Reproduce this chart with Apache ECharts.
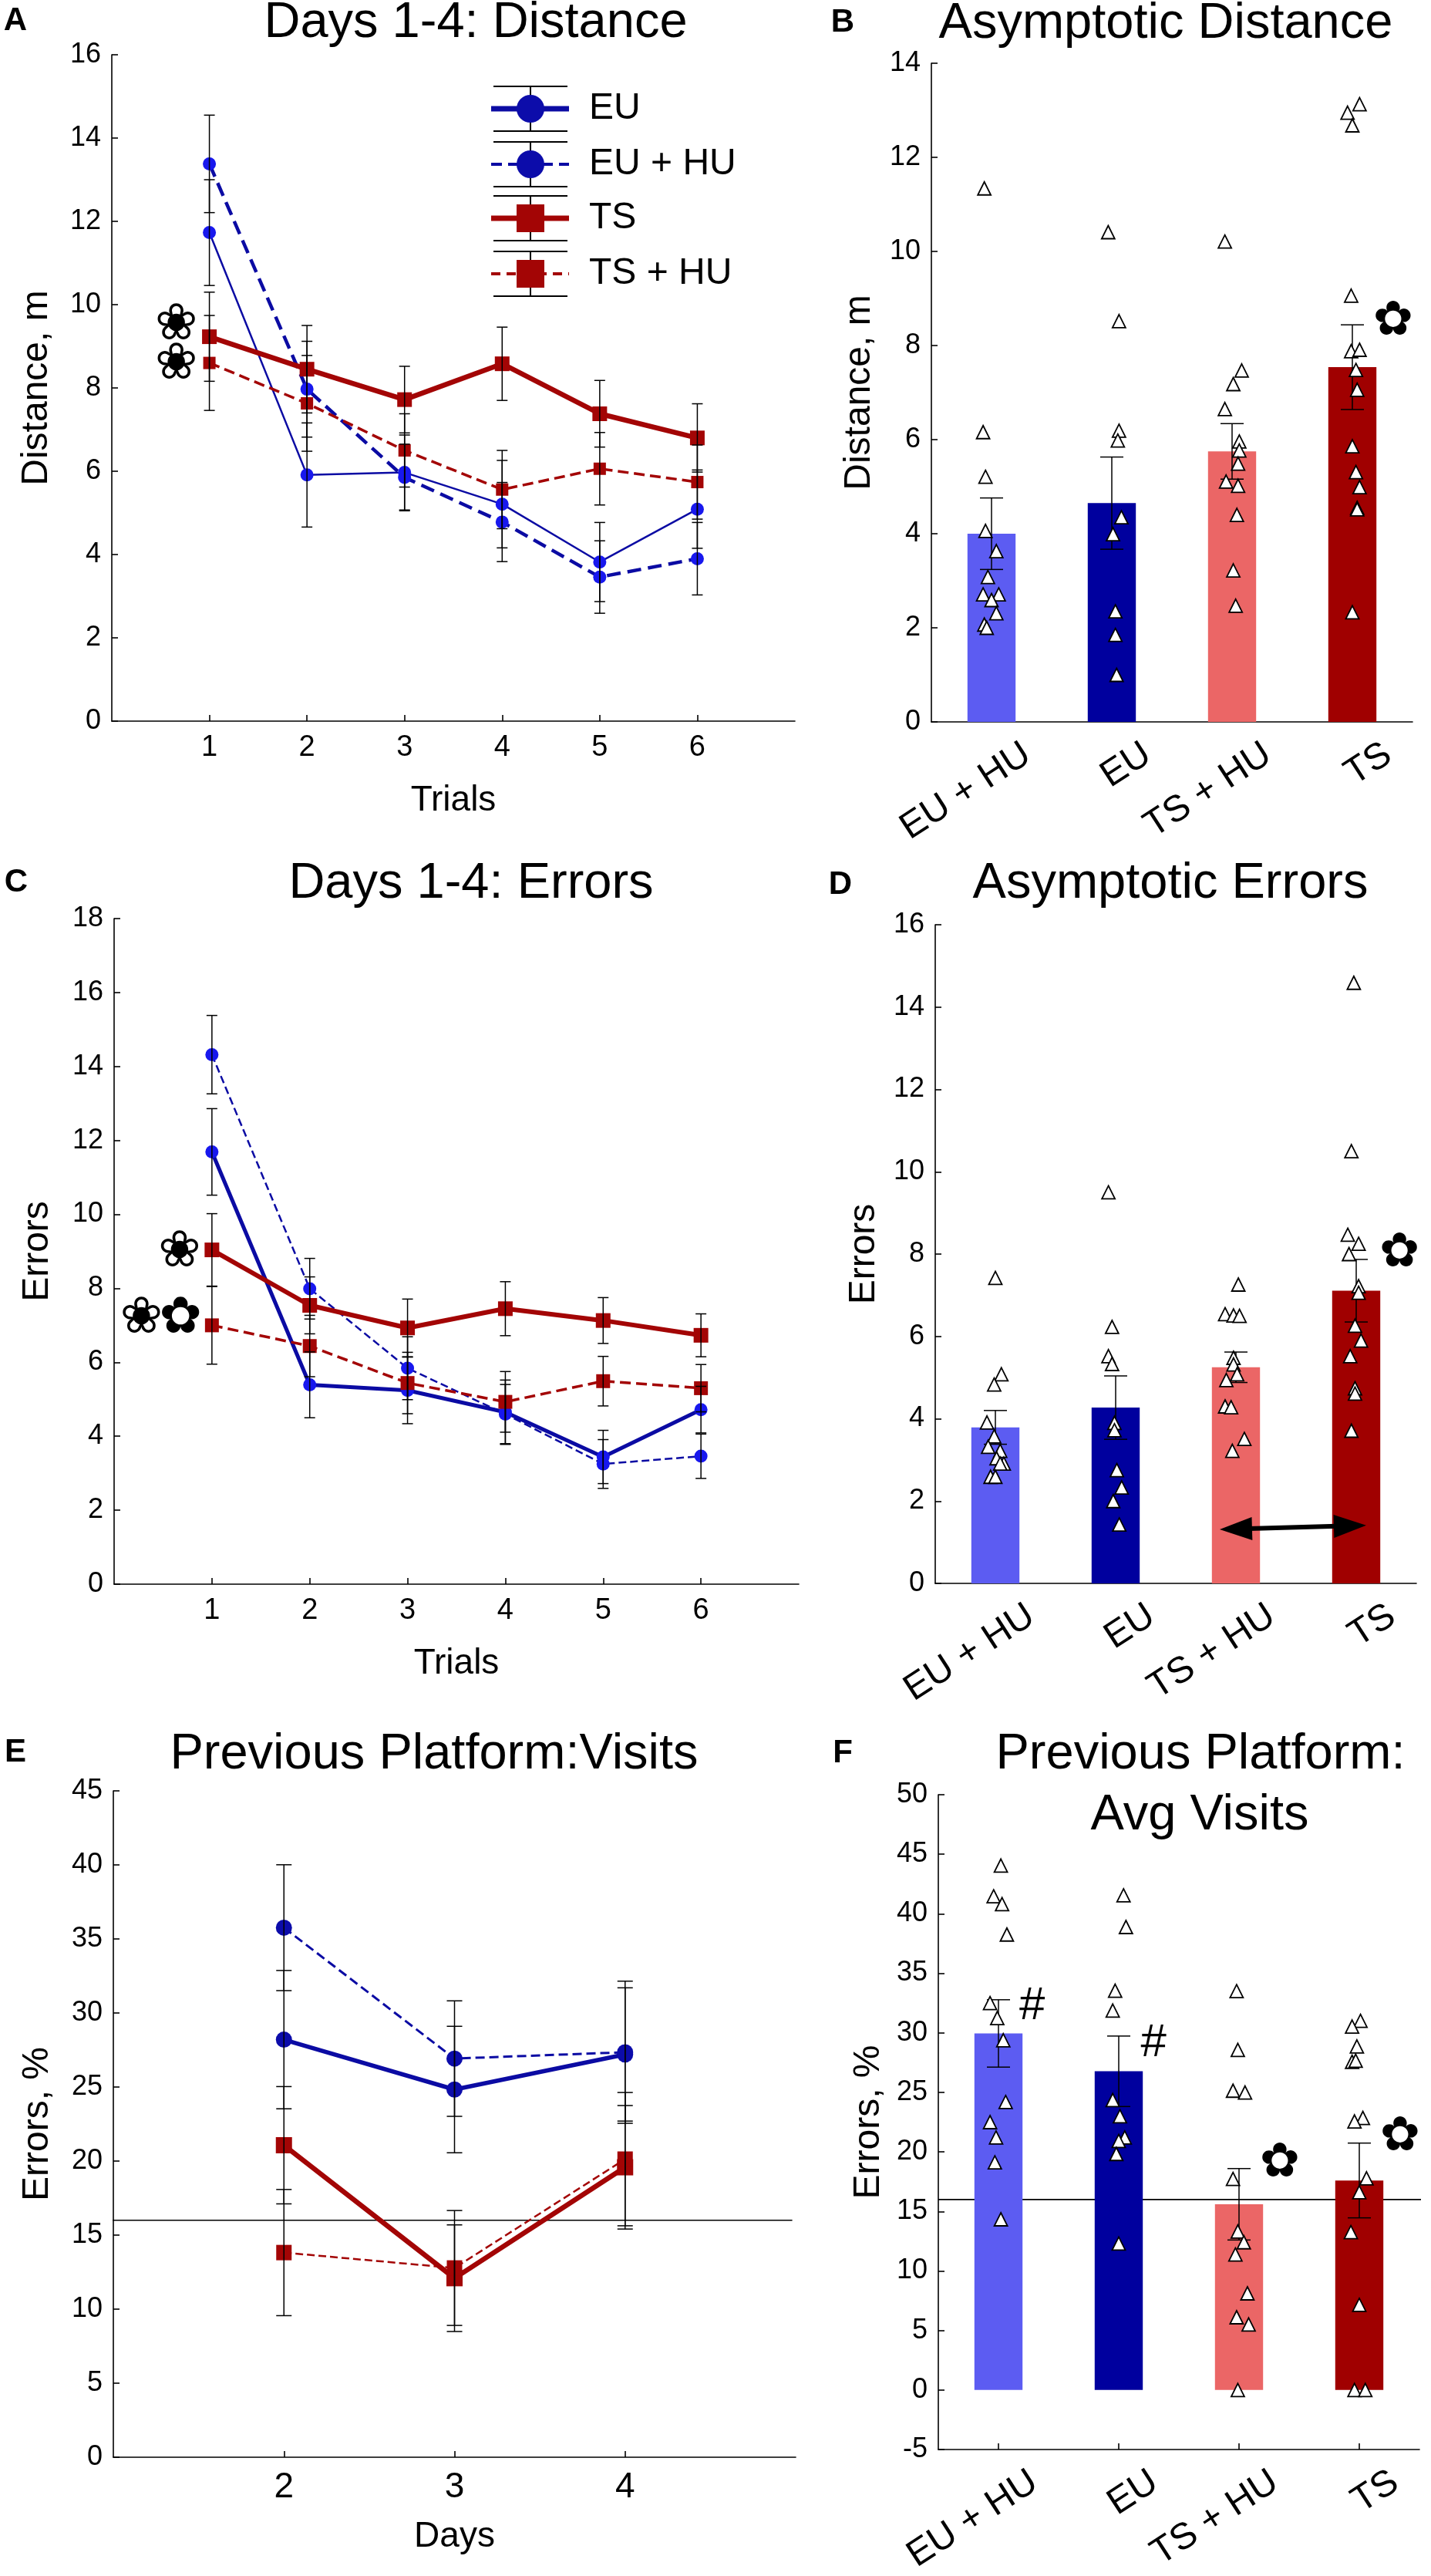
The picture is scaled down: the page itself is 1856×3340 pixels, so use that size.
<!DOCTYPE html>
<html><head><meta charset="utf-8">
<script src="https://cdn.jsdelivr.net/npm/echarts@6/dist/echarts.min.js"></script>
<style>html,body{margin:0;padding:0;background:#fff}#c{width:1856px;height:3340px}</style>
</head><body><div id="c"></div>
<script>
// ---------------- DATA ----------------
const trials = [1, 2, 3, 4, 5, 6];
const days = [2, 3, 4];
const groups = ['EU + HU', 'EU', 'TS + HU', 'TS'];
const legendNames = ['EU', 'EU + HU', 'TS', 'TS + HU'];

// Panel A: Days 1-4 distance (m)
const distEU = [11.73, 5.91, 5.97, 5.21, 3.82, 5.09];
const distEUsem = [1.27, 1.25, 0.9, 1.05, 0.95, 0.94];
const distEUHU = [13.38, 7.97, 5.85, 4.78, 3.46, 3.90];
const distEUHUsem = [1.17, 1.15, 0.8, 0.95, 0.87, 0.87];
const distTS = [9.23, 8.45, 7.72, 8.58, 7.38, 6.80];
const distTSsem = [1.07, 1.05, 0.8, 0.88, 0.8, 0.82];
const distTSHU = [8.60, 7.63, 6.50, 5.56, 6.06, 5.74];
const distTSHUsem = [1.14, 1.15, 0.88, 0.94, 0.87, 0.89];

// Panel B: asymptotic distance
const asymDist = [4.0, 4.65, 5.75, 7.54];
const asymDistSem = [0.76, 0.98, 0.59, 0.9];
const bDistEUHU = [11.34, 6.16, 5.21, 4.06, 3.63, 3.08, 2.71, 2.71, 2.59, 2.31, 2.07, 2.0];
const bJitEUHU = [-0.06, -0.07, -0.05, -0.05, 0.04, -0.03, -0.07, 0.06, 0.0, 0.04, -0.06, -0.04];
const bDistEU = [10.41, 8.52, 6.19, 5.98, 4.35, 3.99, 2.35, 1.85, 1.0];
const bJitEU = [-0.03, 0.06, 0.06, 0.05, 0.08, 0.01, 0.03, 0.03, 0.04];
const bDistTSHU = [10.21, 7.47, 7.18, 6.65, 5.96, 5.77, 5.49, 5.11, 5.02, 4.40, 3.22, 2.47];
const bJitTSHU = [-0.06, 0.08, 0.01, -0.06, 0.06, 0.06, 0.05, -0.05, 0.05, 0.04, 0.01, 0.03];
const bDistTS = [13.13, 12.95, 12.68, 9.06, 7.88, 7.91, 7.48, 7.06, 5.86, 5.31, 4.99, 4.55, 4.52, 2.33];
const bJitTS = [0.06, -0.04, 0.0, -0.01, -0.01, 0.06, 0.03, 0.04, 0.0, 0.03, 0.06, 0.04, 0.04, 0.0];

// Panel C: Days 1-4 errors
const errEU = [11.69, 5.39, 5.24, 4.65, 3.44, 4.72];
const errEUsem = [1.17, 0.89, 0.9, 0.87, 0.72, 0.63];
const errEUHU = [14.32, 7.99, 5.84, 4.60, 3.25, 3.46];
const errEUHUsem = [1.06, 0.82, 0.85, 0.8, 0.66, 0.6];
const errTS = [9.04, 7.54, 6.93, 7.45, 7.13, 6.73];
const errTSsem = [0.98, 0.77, 0.78, 0.73, 0.62, 0.58];
const errTSHU = [7.0, 6.44, 5.44, 4.93, 5.49, 5.30];
const errTSHUsem = [1.05, 0.83, 0.83, 0.82, 0.67, 0.64];

// Panel D: asymptotic errors
const asymErr = [3.79, 4.27, 5.25, 7.11];
const asymErrSem = [0.41, 0.77, 0.37, 0.76];
const dErrEUHU = [7.42, 5.08, 4.83, 3.91, 3.57, 3.32, 3.22, 3.04, 2.91, 2.91, 2.59, 2.59];
const dJitEUHU = [0.0, 0.05, -0.01, -0.07, -0.01, -0.06, 0.04, 0.01, 0.07, 0.04, -0.04, 0.0];
const dErrEU = [9.5, 6.23, 5.52, 5.33, 3.90, 3.72, 2.75, 2.33, 2.0, 1.43];
const dJitEU = [-0.06, -0.03, -0.06, -0.03, -0.01, -0.01, 0.01, 0.05, -0.02, 0.03];
const dErrTSHU = [7.26, 6.54, 6.51, 6.50, 5.48, 5.32, 5.08, 4.94, 4.30, 4.28, 3.51, 3.22];
const dJitTSHU = [0.02, -0.09, -0.02, 0.03, -0.02, -0.02, 0.01, -0.08, -0.09, -0.04, 0.07, -0.03];
const dErrTS = [14.59, 10.5, 8.47, 8.25, 8.0, 7.22, 7.06, 6.26, 5.9, 5.52, 4.74, 4.61, 3.71];
const dJitTS = [-0.02, -0.04, -0.07, 0.02, -0.06, 0.02, 0.02, -0.01, 0.04, -0.05, -0.01, -0.01, -0.04];
const arrowX = [1.865, 3.083];
const arrowY = [1.31, 1.41];

// Panel E: previous platform visits (%)
const visEU = [28.2, 24.83, 27.2];
const visEUsem = [4.67, 4.27, 4.5];
const visEUHU = [35.76, 26.92, 27.35];
const visEUHUsem = [4.25, 3.9, 4.8];
const visTS = [21.07, 12.09, 19.58];
const visTSsem = [3.96, 3.6, 4.17];
const visTSHU = [13.82, 12.78, 20.13];
const visTSHUsem = [4.26, 3.88, 4.5];
const chanceLevel = 16;

// Panel F: average visits
const avgVis = [29.95, 26.77, 15.6, 17.6];
const avgVisSem = [2.83, 2.96, 3.0, 3.14];
const fVisEUHU = [44.05, 41.47, 40.81, 38.26, 32.5, 31.24, 29.38, 24.19, 22.5, 21.21, 19.12, 14.34];
const fJitEUHU = [0.02, -0.04, 0.03, 0.07, -0.07, -0.01, 0.04, 0.06, -0.07, -0.02, -0.03, 0.02];
const fVisEU = [41.55, 38.89, 33.54, 31.87, 24.36, 22.99, 21.21, 20.92, 19.83, 12.3];
const fJitEU = [0.04, 0.06, -0.03, -0.05, -0.05, 0.01, 0.05, 0.0, -0.02, 0.0];
const fVisTSHU = [33.5, 28.57, 25.14, 24.99, 17.73, 13.31, 12.41, 11.38, 8.12, 6.11, 5.51, 0];
const fJitTSHU = [-0.02, -0.01, -0.05, 0.05, -0.05, -0.01, 0.04, -0.03, 0.07, -0.02, 0.08, -0.01];
const fVisTS = [31.01, 30.53, 28.86, 27.57, 27.66, 22.85, 22.56, 17.78, 16.62, 13.26, 7.15, 0, 0];
const fJitTS = [0.01, -0.06, -0.02, -0.06, -0.03, 0.03, -0.04, 0.06, 0.0, -0.07, 0.0, -0.04, 0.05];

// Significance annotations
const annAx = [0.66, 0.66], annAy = [9.48, 8.54], annAt = ['\u2740', '\u2740'];
const annBx = [3.34], annBy = [8.5], annBt = ['\u273F'];
const annCx = [0.67, 0.28, 0.68], annCy = [8.96, 7.15, 7.15], annCt = ['\u2740', '\u2740', '\u273F'];
const annDx = [3.36], annDy = [8.0], annDt = ['\u273F'];
const annFx = [0.28, 1.29, 2.34, 3.34], annFy = [32.2, 29.1, 19.0, 21.2], annFt = ['#', '#', '\u273F', '\u273F'];

// ---------------- STYLE ----------------
const FONT = "'Liberation Sans', Arial, Helvetica, sans-serif";
const SYMF = "'DejaVu Sans', sans-serif";
const BLUE_LINE = '#0b0ba3';
const BLUE_MK = '#1818ee';
const BLUE_MK_DARK = '#0c0caa';
const RED = '#a30505';
const BAR_COLORS = ['#5c5cf2', '#00009e', '#eb6666', '#a00000'];
const AXC = {color: '#000', width: 1.6};

function yAx(grid, min, max, interval, name, gap) {
  return {type: 'value', gridIndex: grid, min, max, interval, name, nameLocation: 'middle', nameGap: gap,
    nameTextStyle: {fontSize: 48, color: '#000', fontFamily: FONT},
    axisLine: {show: true, onZero: false, lineStyle: AXC},
    axisTick: {show: true, inside: true, length: 8, lineStyle: AXC},
    axisLabel: {fontSize: 36, color: '#000', fontFamily: FONT, margin: 14},
    splitLine: {show: false}};
}
function xValAx(grid, min, max, ticks, name, fs) {
  return {type: 'value', gridIndex: grid, min, max, interval: 1, name, nameLocation: 'middle', nameGap: 80,
    nameTextStyle: {fontSize: 46, color: '#000', fontFamily: FONT},
    axisLine: {show: true, onZero: false, lineStyle: AXC},
    axisTick: {show: true, inside: true, length: 8, customValues: ticks, lineStyle: AXC},
    axisLabel: {customValues: ticks, fontSize: fs, color: '#000', fontFamily: FONT, margin: 16},
    splitLine: {show: false}};
}
function xCatAx(grid) {
  return {type: 'category', gridIndex: grid, data: groups,
    axisLine: {show: true, onZero: false, lineStyle: AXC},
    axisTick: {show: true, inside: true, alignWithLabel: true, length: 8, lineStyle: AXC},
    axisLabel: {interval: 0, rotate: 33, fontSize: 48, color: '#000', fontFamily: FONT, margin: 40,
      align: 'right', verticalAlign: 'top', padding: [0, -40, 0, 0]},
    splitLine: {show: false}};
}
function xHidden(grid) {
  return {type: 'value', gridIndex: grid, min: -0.5, max: 3.5, show: false, splitLine: {show: false}};
}

function lineS(xi, yi, xs, ys, lineColor, mkColor, width, dashed, symbol, size) {
  return {type: 'line', xAxisIndex: xi, yAxisIndex: yi, data: xs.map((x, i) => [x, ys[i]]),
    symbol, symbolSize: size, showSymbol: true, z: 3,
    lineStyle: {color: lineColor, width, type: dashed ? 'dashed' : 'solid'},
    itemStyle: {color: mkColor, borderWidth: 0}};
}
function errS(xi, yi, xs, ys, sem, cap, z) {
  return {type: 'custom', xAxisIndex: xi, yAxisIndex: yi, z: z || 4, silent: true,
    data: xs.map((x, i) => [x, ys[i] - sem[i], ys[i] + sem[i]]),
    renderItem: (params, api) => {
      const lo = api.coord([api.value(0), api.value(1)]);
      const hi = api.coord([api.value(0), api.value(2)]);
      const st = {stroke: '#000', lineWidth: 1.5};
      return {type: 'group', children: [
        {type: 'line', shape: {x1: lo[0], y1: lo[1], x2: hi[0], y2: hi[1]}, style: st},
        {type: 'line', shape: {x1: lo[0] - cap, y1: lo[1], x2: lo[0] + cap, y2: lo[1]}, style: st},
        {type: 'line', shape: {x1: hi[0] - cap, y1: hi[1], x2: hi[0] + cap, y2: hi[1]}, style: st}
      ]};
    }};
}
function barS(xi, yi, vals) {
  return {type: 'bar', xAxisIndex: xi, yAxisIndex: yi, barWidth: '40%', z: 2,
    data: vals.map((v, i) => ({value: v, itemStyle: {color: BAR_COLORS[i]}}))};
}
function triS(xi, yi, g, vals, jit) {
  return {type: 'scatter', xAxisIndex: xi, yAxisIndex: yi, z: 6, symbol: 'triangle', symbolSize: 17,
    data: vals.map((v, i) => [g + jit[i], v]),
    itemStyle: {color: '#fff', borderColor: '#000', borderWidth: 1.8, opacity: 1}};
}
function textS(xi, yi, xs, ys, texts, fontSpec) {
  return {type: 'custom', xAxisIndex: xi, yAxisIndex: yi, z: 8, silent: true,
    data: xs.map((x, i) => [x, ys[i]]),
    renderItem: (params, api) => {
      const p = api.coord([api.value(0), api.value(1)]);
      const t = texts[params.dataIndex];
      return {type: 'text', x: p[0], y: p[1], style: {text: t, fill: '#000',
        font: t === '#' ? '60px ' + FONT : fontSpec,
        align: 'center', verticalAlign: 'middle', textAlign: 'center', textVerticalAlign: 'middle'}};
    }};
}
function hLineS(xi, yi, x0, x1, y) {
  return {type: 'line', xAxisIndex: xi, yAxisIndex: yi, clip: false, symbol: 'none', z: 1, silent: true,
    data: [[x0, y], [x1, y]], lineStyle: {color: '#000', width: 1.6}};
}
function arrowS(xi, yi) {
  return {type: 'custom', xAxisIndex: xi, yAxisIndex: yi, z: 7, silent: true,
    data: [[arrowX[0], arrowY[0], arrowX[1], arrowY[1]]],
    renderItem: (params, api) => {
      const a = api.coord([api.value(0), api.value(1)]);
      const b = api.coord([api.value(2), api.value(3)]);
      const dx = b[0] - a[0], dy = b[1] - a[1], L = Math.hypot(dx, dy);
      const ux = dx / L, uy = dy / L, nx = -uy, ny = ux, HL = 42, HW = 15;
      const head = (p, s) => [[p[0], p[1]],
        [p[0] + s * HL * ux + HW * nx, p[1] + s * HL * uy + HW * ny],
        [p[0] + s * HL * ux - HW * nx, p[1] + s * HL * uy - HW * ny]];
      return {type: 'group', children: [
        {type: 'line', shape: {x1: a[0] + HL * ux * 0.9, y1: a[1] + HL * uy * 0.9, x2: b[0] - HL * ux * 0.9, y2: b[1] - HL * uy * 0.9}, style: {stroke: '#000', lineWidth: 6}},
        {type: 'polygon', shape: {points: head(a, 1)}, style: {fill: '#000'}},
        {type: 'polygon', shape: {points: head(b, -1)}, style: {fill: '#000'}}
      ]};
    }};
}

// ---------------- LAYOUT ----------------
const grids = [
  {left: 145, top: 71, width: 886, height: 864},    // A
  {left: 1208, top: 82, width: 624, height: 854},   // B
  {left: 148, top: 1191, width: 888, height: 863},  // C
  {left: 1213, top: 1199, width: 624, height: 854}, // D
  {left: 147, top: 2322, width: 885, height: 864},  // E
  {left: 1217, top: 2327, width: 624, height: 857}  // F
];

const xAxis = [
  xValAx(0, 0, 7, trials, 'Trials', 38),   // 0 A
  xCatAx(1),                                // 1 B
  xHidden(1),                               // 2 B hidden
  xValAx(2, 0, 7, trials, 'Trials', 38),   // 3 C
  xCatAx(3),                                // 4 D
  xHidden(3),                               // 5 D hidden
  xValAx(4, 1, 5, days, 'Days', 46),       // 6 E
  xCatAx(5),                                // 7 F
  xHidden(5)                                // 8 F hidden
];
const yAxis = [
  yAx(0, 0, 16, 2, 'Distance, m', 73),
  yAx(1, 0, 14, 2, 'Distance, m', 69),
  yAx(2, 0, 18, 2, 'Errors', 75),
  yAx(3, 0, 16, 2, 'Errors', 68),
  yAx(4, 0, 45, 5, 'Errors, %', 74),
  yAx(5, -5, 50, 5, 'Errors, %', 66)
];

const FLOWER_OPEN = '66px ' + SYMF;
const FLOWER = '62px ' + SYMF;

const series = [
  // A
  lineS(0, 0, trials, distEU, BLUE_LINE, BLUE_MK, 2.5, false, 'circle', 17),
  lineS(0, 0, trials, distEUHU, BLUE_LINE, BLUE_MK, 4.5, true, 'circle', 17),
  lineS(0, 0, trials, distTS, RED, RED, 6.5, false, 'rect', 19),
  lineS(0, 0, trials, distTSHU, RED, RED, 3.5, true, 'rect', 16),
  errS(0, 0, trials, distEU, distEUsem, 7), errS(0, 0, trials, distEUHU, distEUHUsem, 7),
  errS(0, 0, trials, distTS, distTSsem, 7), errS(0, 0, trials, distTSHU, distTSHUsem, 7),
  textS(0, 0, annAx, annAy, annAt, FLOWER_OPEN),
  // B
  barS(1, 1, asymDist),
  errS(2, 1, [0, 1, 2, 3], asymDist, asymDistSem, 15),
  triS(2, 1, 0, bDistEUHU, bJitEUHU), triS(2, 1, 1, bDistEU, bJitEU),
  triS(2, 1, 2, bDistTSHU, bJitTSHU), triS(2, 1, 3, bDistTS, bJitTS),
  textS(2, 1, annBx, annBy, annBt, FLOWER),
  // C
  lineS(3, 2, trials, errEU, BLUE_LINE, BLUE_MK, 5, false, 'circle', 17),
  lineS(3, 2, trials, errEUHU, BLUE_LINE, BLUE_MK, 2.5, true, 'circle', 17),
  lineS(3, 2, trials, errTS, RED, RED, 6, false, 'rect', 19),
  lineS(3, 2, trials, errTSHU, RED, RED, 3.5, true, 'rect', 18),
  errS(3, 2, trials, errEU, errEUsem, 7), errS(3, 2, trials, errEUHU, errEUHUsem, 7),
  errS(3, 2, trials, errTS, errTSsem, 7), errS(3, 2, trials, errTSHU, errTSHUsem, 7),
  textS(3, 2, annCx, annCy, annCt, FLOWER_OPEN),
  // D
  barS(4, 3, asymErr),
  errS(5, 3, [0, 1, 2, 3], asymErr, asymErrSem, 15),
  triS(5, 3, 0, dErrEUHU, dJitEUHU), triS(5, 3, 1, dErrEU, dJitEU),
  triS(5, 3, 2, dErrTSHU, dJitTSHU), triS(5, 3, 3, dErrTS, dJitTS),
  textS(5, 3, annDx, annDy, annDt, FLOWER),
  arrowS(5, 3),
  // E
  hLineS(6, 4, 0.34, 4.98, chanceLevel),
  lineS(6, 4, days, visEU, BLUE_LINE, BLUE_MK_DARK, 5.5, false, 'circle', 21),
  lineS(6, 4, days, visEUHU, BLUE_LINE, BLUE_MK_DARK, 3, true, 'circle', 21),
  lineS(6, 4, days, visTS, RED, RED, 6.5, false, 'rect', 21),
  lineS(6, 4, days, visTSHU, RED, RED, 2.5, true, 'rect', 20),
  errS(6, 4, days, visEU, visEUsem, 10), errS(6, 4, days, visEUHU, visEUHUsem, 10),
  errS(6, 4, days, visTS, visTSsem, 10), errS(6, 4, days, visTSHU, visTSHUsem, 10),
  // F
  barS(7, 5, avgVis),
  hLineS(8, 5, -0.5, 3.56, chanceLevel),
  errS(8, 5, [0, 1, 2, 3], avgVis, avgVisSem, 15),
  triS(8, 5, 0, fVisEUHU, fJitEUHU), triS(8, 5, 1, fVisEU, fJitEU),
  triS(8, 5, 2, fVisTSHU, fJitTSHU), triS(8, 5, 3, fVisTS, fJitTS),
  textS(8, 5, annFx, annFy, annFt, FLOWER)
];

// ---------------- TEXT / LEGEND GRAPHICS ----------------
function txt(text, x, y, size, bold) {
  return {type: 'text', x, y, silent: true, style: {text, fill: '#000',
    font: (bold ? 'bold ' : '') + size + 'px ' + FONT,
    align: 'center', verticalAlign: 'middle', textAlign: 'center', textVerticalAlign: 'middle'}};
}
const graphics = [
  txt('Days 1-4: Distance', 617, 30, 65), txt('Asymptotic Distance', 1512, 31, 65),
  txt('Days 1-4: Errors', 611, 1146, 65), txt('Asymptotic Errors', 1518, 1146, 65),
  txt('Previous Platform:Visits', 563, 2275, 65),
  txt('Previous Platform:', 1557, 2275, 65), txt('Avg Visits', 1556, 2354, 65),
  txt('A', 20, 27, 42, true), txt('B', 1093, 29, 42, true), txt('C', 21, 1144, 42, true),
  txt('D', 1090, 1147, 42, true), txt('E', 20, 2272, 42, true), txt('F', 1093, 2273, 42, true)
];
const legendRows = [
  {y: 141, color: BLUE_LINE, mk: BLUE_MK_DARK, shape: 'circle', lw: 7, dash: null},
  {y: 213, color: BLUE_LINE, mk: BLUE_MK_DARK, shape: 'circle', lw: 4, dash: [14, 8]},
  {y: 283, color: RED, mk: RED, shape: 'rect', lw: 7, dash: null},
  {y: 355, color: RED, mk: RED, shape: 'rect', lw: 4, dash: [12, 8]}
];
legendRows.forEach((r, i) => {
  const cx = 688, st = {stroke: '#000', lineWidth: 2};
  graphics.push({type: 'line', silent: true, shape: {x1: 637, y1: r.y, x2: 738, y2: r.y},
    style: {stroke: r.color, lineWidth: r.lw, lineDash: r.dash}});
  graphics.push({type: 'line', silent: true, shape: {x1: cx, y1: r.y - 29, x2: cx, y2: r.y + 29}, style: st});
  graphics.push({type: 'line', silent: true, shape: {x1: 640, y1: r.y - 29, x2: 736, y2: r.y - 29}, style: st});
  graphics.push({type: 'line', silent: true, shape: {x1: 640, y1: r.y + 29, x2: 736, y2: r.y + 29}, style: st});
  if (r.shape === 'circle') {
    graphics.push({type: 'circle', silent: true, shape: {cx, cy: r.y, r: 18}, style: {fill: r.mk}});
  } else {
    graphics.push({type: 'rect', silent: true, shape: {x: cx - 18, y: r.y - 18, width: 36, height: 36}, style: {fill: r.mk}});
  }
  graphics.push({type: 'text', silent: true, x: 764, y: r.y, style: {text: legendNames[i], fill: '#000',
    font: '48px ' + FONT, align: 'left', verticalAlign: 'middle', textAlign: 'left', textVerticalAlign: 'middle'}});
});

const chart = echarts.init(document.getElementById('c'), null, {renderer: 'canvas', width: 1856, height: 3340});
chart.setOption({
  backgroundColor: '#fff',
  animation: false,
  textStyle: {fontFamily: FONT, color: '#000'},
  grid: grids,
  xAxis, yAxis, series,
  graphic: graphics
});
</script></body></html>
